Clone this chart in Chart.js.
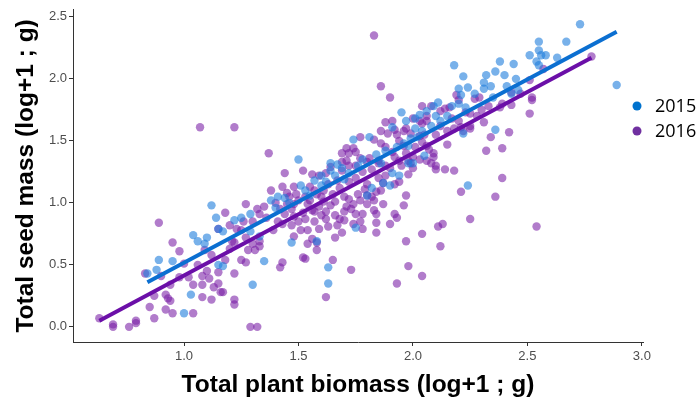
<!DOCTYPE html>
<html>
<head>
<meta charset="utf-8">
<script src="https://cdn.jsdelivr.net/npm/chart.js@4.4.1/dist/chart.umd.min.js"></script>
<style>
  html, body { margin: 0; padding: 0; background: #fff; }
  #wrap { width: 699px; height: 403px; }
</style>
</head>
<body>
<div id="wrap"><canvas id="seedChart"></canvas></div>
<script>
// values: [biomass, seed mass], both log+1 g
const years = ["2015", "2016"];

const pts2015 = [
  [1.12,0.98],[1.14,0.88],[1.15,0.79],[1.04,0.74],[1.06,0.69],[1.09,0.67],[0.89,0.54],[0.95,0.53],
  [0.88,0.46],[0.84,0.43],[1.15,0.50],[1.03,0.26],[1.00,0.11],[1.50,1.35],[1.74,1.51],[1.64,1.32],
  [1.67,1.31],[1.60,1.22],[1.17,0.77],[1.29,0.91],[1.41,1.05],[1.38,1.02],[1.47,0.68],[1.35,0.53],
  [1.30,0.34],[1.17,0.49],[1.58,0.69],[1.63,0.48],[1.63,0.35],[1.75,0.80],[1.33,0.73],[1.29,0.77],
  [2.24,1.14],[1.90,1.14],[1.91,1.24],[1.94,1.22],[1.87,1.16],[1.82,1.12],[1.80,1.06],[2.00,1.32],
  [2.18,2.11],[2.22,2.02],[2.20,1.92],[2.24,1.93],[2.32,2.03],[2.31,1.97],[2.36,2.06],[2.38,2.14],
  [2.31,1.92],[2.34,1.94],[2.40,2.03],[1.95,1.73],[2.11,1.81],[2.09,1.78],[2.06,1.74],[1.97,1.66],
  [2.01,1.68],[2.10,1.70],[2.20,1.80],[2.23,1.77],[2.22,1.56],[2.36,1.59],[1.91,1.61],[1.81,1.53],
  [2.01,1.60],[2.02,1.53],[2.05,1.38],[1.98,1.32],[2.73,2.44],[2.67,2.30],[2.55,2.30],[2.55,2.23],
  [2.56,2.19],[2.58,2.19],[2.51,2.19],[2.63,2.17],[2.54,2.14],[2.55,2.11],[2.44,2.12],[2.41,1.94],
  [2.46,1.91],[2.43,1.88],[2.89,1.95],[2.21,1.87],[2.17,1.78],[2.03,1.71],[1.96,1.48],[1.98,1.46],
  [1.64,1.26],[1.57,1.18],[1.51,1.14],
  [1.40,0.96],[1.44,1.04],[1.46,1.00],[1.53,1.10],[1.55,1.06],[1.60,1.14],[1.62,1.17],[1.66,1.22],
  [1.69,1.28],[1.70,1.19],[1.72,1.24],[1.76,1.30],[1.78,1.35],[1.84,1.39],[1.86,1.32],[1.88,1.42],
  [1.93,1.45],[1.99,1.52],[2.04,1.58],[2.08,1.62],[2.12,1.66],[2.15,1.70],[2.27,1.88],[2.35,1.85],
  [2.45,2.00],[1.25,0.88],[1.22,0.86],[1.10,0.72]
];

const pts2016 = [
  [0.89,0.84],[0.95,0.68],[0.98,0.61],[0.83,0.43],[0.90,0.41],[0.63,0.07],[0.69,0.02],[0.69,0.00],
  [0.76,0.00],[0.79,0.05],[0.79,0.03],[0.85,0.16],[0.87,0.07],[0.87,0.25],[0.92,0.26],[0.93,0.23],
  [0.94,0.21],[0.92,0.14],[0.95,0.11],[1.04,0.11],[1.04,0.34],[1.08,0.24],[1.12,0.22],[1.08,0.34],
  [1.11,0.39],[1.08,0.41],[1.10,0.45],[1.13,0.32],[1.15,0.35],[1.16,0.28],[1.02,0.40],[0.98,0.40],
  [0.94,0.34],[1.00,0.51],[1.09,0.62],[1.15,0.44],[1.15,0.79],
  [1.07,1.61],[1.22,1.61],[1.37,1.40],[1.44,1.24],[1.52,1.26],[1.56,1.23],[1.69,1.40],[1.72,1.40],
  [1.74,1.44],[1.69,1.33],
  [1.38,1.10],[1.43,1.13],[1.48,1.13],[1.49,1.07],[1.46,1.05],[1.27,0.99],[1.18,0.92],[1.26,0.85],
  [1.32,0.95],[1.33,0.91],[1.35,0.97],[1.21,0.69],[1.22,0.68],[1.27,0.72],[1.28,0.62],[1.30,0.67],
  [1.33,0.69],[1.33,0.65],[1.31,0.62],[1.18,0.54],[1.25,0.54],[1.27,0.52],[1.22,0.43],[1.17,0.28],
  [1.22,0.22],[1.22,0.18],[1.29,0.00],[1.32,0.00],[1.42,0.48],[1.43,0.52],[1.52,0.56],[1.53,0.55],
  [1.54,0.67],[1.56,0.71],[1.58,0.68],[1.58,0.62],[1.41,0.85],[1.43,0.83],[1.47,0.82],[1.50,0.85],
  [1.51,0.78],[1.54,0.78],[1.44,0.91],[1.48,0.89],[1.53,0.87],[1.57,0.85],[1.59,0.79],[1.62,0.87],
  [1.63,0.81],[1.65,0.54],[1.62,0.24],[1.67,0.82],[1.68,0.87],[1.70,0.93],[1.69,0.76],[1.71,0.97],
  [1.72,1.03],[1.73,0.46],[1.74,0.83],[1.75,0.91],[1.69,1.26],[1.59,1.22],[1.62,1.24],[1.67,1.18],
  [1.55,1.13],[1.58,1.07],[1.61,1.10],[1.61,1.01],[1.64,0.98],[1.66,1.01],[1.54,0.99],[1.56,0.94],
  [1.57,0.93],[1.45,0.99],[1.48,0.99],[1.20,0.82],[1.23,0.79],
  [2.08,1.32],[2.10,1.30],[2.10,1.27],[2.14,1.27],[2.18,1.26],[2.39,1.20],[2.21,1.09],[2.36,1.05],
  [2.25,0.87],[2.11,0.81],[2.13,0.83],[2.04,0.75],[1.97,0.69],[2.12,0.65],[1.98,0.49],[2.04,0.41],
  [1.93,0.35],[1.97,1.06],[1.96,0.98],[1.94,1.17],[1.98,1.23],[1.99,1.32],[2.00,1.28],[1.87,1.16],
  [1.84,1.09],[1.79,1.11],[1.80,1.06],[1.76,1.07],[1.74,0.99],[1.80,0.99],[1.83,1.02],[1.87,0.99],
  [1.83,0.94],[1.84,0.91],[1.78,0.91],[1.77,0.85],[1.84,0.84],[1.78,0.79],[1.84,0.76],[1.90,0.83],
  [1.92,0.91],[1.93,0.88],
  [2.51,1.72],[2.52,1.83],[2.42,1.57],[2.39,1.44],[2.54,0.81],[2.43,1.79],
  [1.83,2.35],[1.86,1.94],[1.90,1.85],[2.19,1.87],[2.20,1.83],[2.27,1.84],[2.29,1.85],[2.04,1.78],
  [2.34,1.53],[2.32,1.42],[2.15,1.47],[2.09,1.37],[2.25,1.60],[2.21,1.61],[2.22,1.58],[1.86,1.58],
  [1.77,1.53],[1.83,1.51],[1.64,1.29],[1.92,1.59],[1.93,1.55],[1.96,1.46],[2.12,1.74],[2.14,1.76],
  [2.16,1.77],[2.03,1.66],[2.04,1.64],[2.06,1.66],[1.88,1.45],[1.91,1.41],[1.92,1.37],[2.00,1.37],
  [2.03,1.35],[2.06,1.34],[1.85,1.34],[1.88,1.30],[1.97,1.60],[1.99,1.56],[2.33,1.78],[2.38,1.77],
  [2.08,1.78],[2.23,1.73],[2.25,1.72],[2.00,1.68],[1.96,1.58],[2.03,1.54],[2.15,1.58],[2.18,1.60],
  [2.25,1.62],[2.20,1.66],[2.31,1.65],[2.04,1.49],[2.06,1.46],[2.07,1.43],[2.09,1.40],[1.94,1.50],
  [1.89,1.56],[1.86,1.48],[1.71,1.44],[1.75,1.41],[1.94,1.34],[1.98,1.34],[1.81,1.36],[1.85,1.32],
  [1.77,1.36],[1.80,1.33],[1.75,1.30],[1.71,1.34],[1.72,1.30],[2.06,1.70],[1.88,1.65],[1.91,1.66],
  [2.78,2.18],[2.51,1.99],[2.43,1.89],[2.52,1.85],[2.47,1.88],[2.39,1.80],[2.57,2.08],
  [1.40,1.00],[1.42,0.95],[1.45,1.08],[1.47,0.95],[1.50,1.02],[1.52,0.92],[1.53,1.05],[1.55,1.02],
  [1.57,1.10],[1.59,0.97],[1.60,1.05],[1.62,0.93],[1.63,1.15],[1.65,1.07],[1.66,0.90],[1.68,1.12],
  [1.70,1.05],[1.72,1.17],[1.73,0.95],[1.75,1.20],[1.77,1.02],[1.78,1.25],[1.80,1.15],[1.82,1.27],
  [1.82,1.05],[1.85,1.20],[1.86,1.10],[1.88,1.22],[1.90,1.28],[1.92,1.15],[1.95,1.30],[1.97,1.40],
  [2.01,1.45],[2.05,1.55],[2.10,1.55],[2.12,1.62],[2.17,1.68],[2.28,1.70],[2.30,1.75],[1.36,0.88],
  [1.39,0.78],[1.30,0.85],[1.25,0.78],[1.20,0.63],[1.12,0.58],[1.06,0.50],[1.60,0.90],[1.70,0.86],
  [1.66,0.72],[1.48,0.73]
];

// fitted lines, start/end as drawn
const fit2015 = [[0.84, 0.36], [2.89, 2.38]];
const fit2016 = [[0.63, 0.05], [2.78, 2.17]];

const xTicks = [1.0, 1.5, 2.0, 2.5, 3.0];
const yTicks = [0.0, 0.5, 1.0, 1.5, 2.0, 2.5];

const colors = {
  blue: { line: "#0B6FD1", point: "rgba(30,125,220,0.6)", key: "#0072CE" },
  purple: { line: "#6B0FA8", point: "rgba(120,30,165,0.58)", key: "#7030A0" }
};

const toXY = arr => arr.map(p => ({ x: p[0], y: p[1] }));

const axisFont = "'Liberation Sans', Arial, sans-serif";

// legend sits to the right of the panel, ggplot style
const sideLegend = {
  id: "sideLegend",
  afterDraw(chart) {
    const ctx = chart.ctx;
    const keys = [colors.blue.key, colors.purple.key];
    ctx.save();
    ctx.font = "18px 'Open Sans', sans-serif";
    ctx.textBaseline = "middle";
    years.forEach((yr, i) => {
      const y = 106 + i * 25;
      ctx.fillStyle = keys[i];
      ctx.beginPath();
      ctx.arc(637, y, 4.5, 0, Math.PI * 2);
      ctx.fill();
      ctx.fillStyle = "#000";
      ctx.fillText(yr, 655, y + 1);
    });
    ctx.restore();
  }
};

const ctx = document.getElementById("seedChart").getContext("2d");

const chart = new Chart(ctx, {
  type: "scatter",
  data: {
    datasets: [
      {
        type: "line", label: "fit 2015", data: toXY(fit2015), order: 0,
        borderColor: colors.blue.line, borderWidth: 4, pointRadius: 0, fill: false
      },
      {
        type: "line", label: "fit 2016", data: toXY(fit2016), order: 0,
        borderColor: colors.purple.line, borderWidth: 4, pointRadius: 0, fill: false
      },
      {
        label: years[0], data: toXY(pts2015), order: 1,
        backgroundColor: colors.blue.point, borderWidth: 0, pointRadius: 4.2
      },
      {
        label: years[1], data: toXY(pts2016), order: 2,
        backgroundColor: colors.purple.point, borderWidth: 0, pointRadius: 4.2
      }
    ]
  },
  options: {
    responsive: true,
    maintainAspectRatio: false,
    animation: false,
    layout: { padding: { top: 9, right: 56, left: 0, bottom: 0 } },
    plugins: {
      legend: { display: false },
      tooltip: { enabled: false }
    },
    scales: {
      x: {
        type: "linear",
        min: 0.515,
        max: 3.005,
        afterBuildTicks: s => { s.ticks = xTicks.map(v => ({ value: v })); },
        afterFit: s => { s.height = 61; },
        border: { display: true, color: "#333", width: 1 },
        grid: { display: true, drawOnChartArea: false, drawTicks: true, tickLength: 4, color: "#333" },
        ticks: {
          color: "#4D4D4D", padding: 3,
          font: { family: axisFont, size: 13 },
          callback: v => Number(v).toFixed(1)
        },
        title: {
          display: true,
          text: "Total plant biomass (log+1 ; g)",
          color: "#000",
          font: { family: axisFont, size: 24.5, weight: "bold" },
          padding: { top: 0, bottom: 3 }
        }
      },
      y: {
        type: "linear",
        min: -0.122,
        max: 2.557,
        afterBuildTicks: s => { s.ticks = yTicks.map(v => ({ value: v })); },
        afterFit: s => { s.width = 73; },
        border: { display: true, color: "#333", width: 1 },
        grid: { display: true, drawOnChartArea: false, drawTicks: true, tickLength: 4, color: "#333" },
        ticks: {
          color: "#4D4D4D", padding: 2,
          font: { family: axisFont, size: 13 },
          callback: v => Number(v).toFixed(1)
        },
        title: {
          display: true,
          text: "Total seed mass (log+1 ; g)",
          color: "#000",
          font: { family: axisFont, size: 24.5, weight: "bold" },
          padding: { top: 12, bottom: 0 }
        }
      }
    }
  },
  plugins: [sideLegend]
});
</script>
</body>
</html>
